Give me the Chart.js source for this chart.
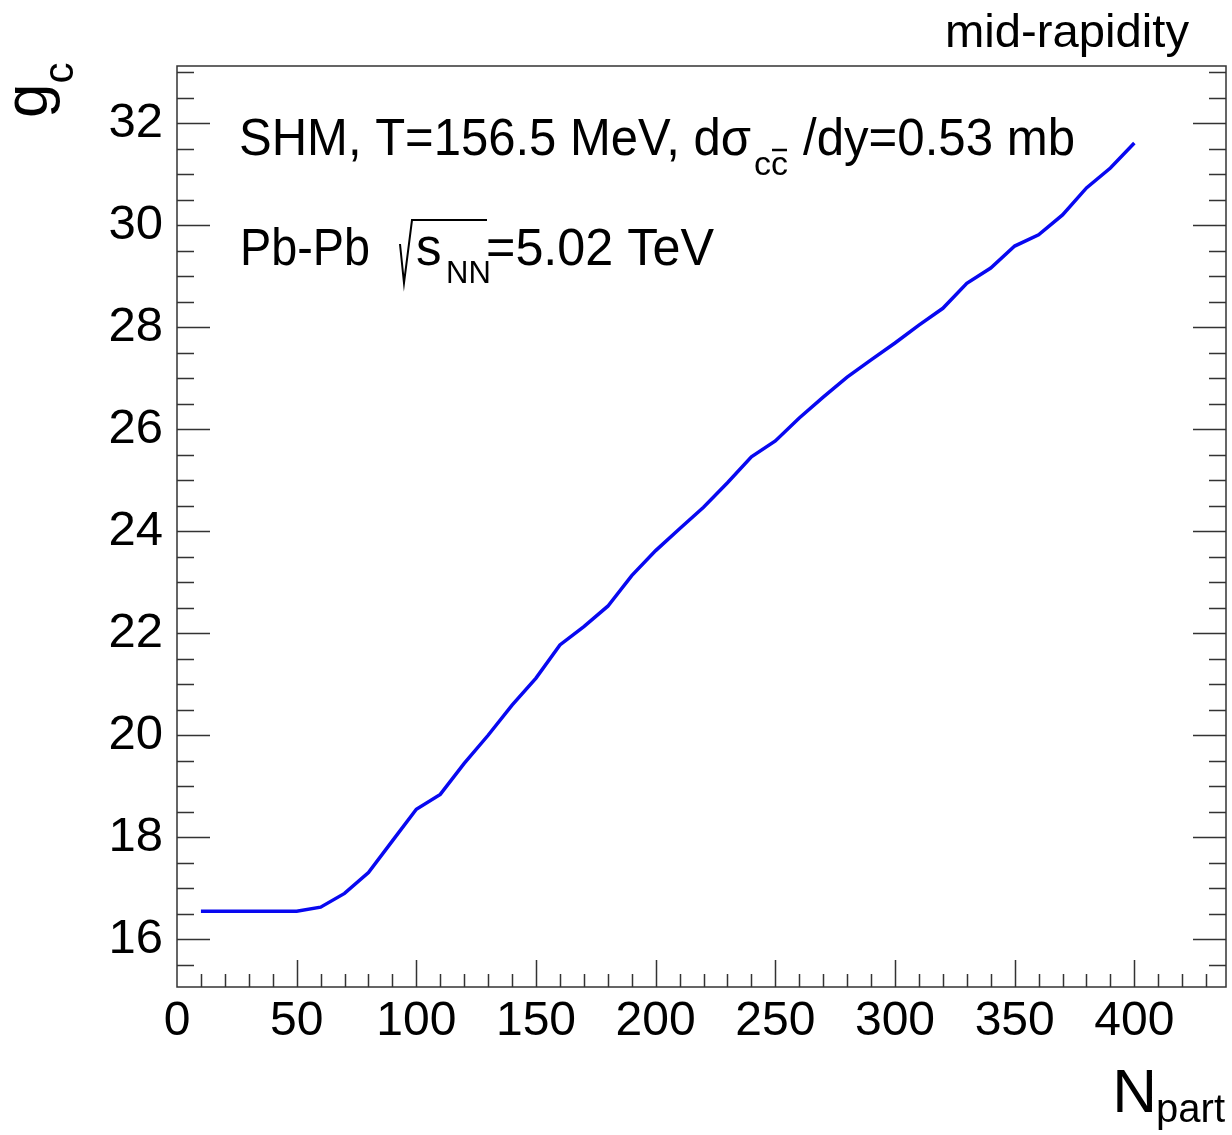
<!DOCTYPE html>
<html><head><meta charset="utf-8">
<script src="https://cdn.jsdelivr.net/npm/chart.js@4.4.1/dist/chart.umd.min.js"></script>
<style>html,body{margin:0;padding:0;background:#fff;overflow:hidden}canvas{display:block}</style>
</head><body>
<canvas id="c" width="1232" height="1135"></canvas>
<script>
// ---- data ----
const nPart = [10,20,30,40,50,60,70,80,90,100,110,120,130,140,150,160,170,180,190,200,
               210,220,230,240,250,260,270,280,290,300,310,320,330,340,350,360,370,380,390,400];
const gC = [16.55,16.55,16.55,16.55,16.55,16.63,16.90,17.31,17.93,18.55,18.84,19.45,20.00,20.59,21.12,21.77,22.13,22.53,23.13,23.62,
            24.05,24.47,24.95,25.46,25.77,26.22,26.63,27.02,27.36,27.69,28.04,28.37,28.86,29.16,29.59,29.81,30.20,30.73,31.12,31.61];
const xTickLabels = [0,50,100,150,200,250,300,350,400];
const yTickLabels = [16,18,20,22,24,26,28,30,32];

const FONT = '"Liberation Sans", Arial, Helvetica, sans-serif';
const frameColor = '#333333';

// draw text starting at x, horizontally scaled so its advance spans to xEnd
function fitText(ctx, str, x, xEnd, y, size) {
  ctx.font = size + 'px ' + FONT;
  const w = ctx.measureText(str).width;
  const sx = (xEnd - x) / w;
  ctx.save();
  ctx.translate(x, y);
  ctx.scale(sx, 1);
  ctx.fillText(str, 0, 0);
  ctx.restore();
}

const decorPlugin = {
  id: 'decor',
  afterDraw(chart) {
    const ctx = chart.ctx, ca = chart.chartArea;
    const xs = chart.scales.x, ys = chart.scales.y;
    ctx.save();
    // frame
    ctx.strokeStyle = frameColor;
    ctx.lineWidth = 1.5;
    ctx.strokeRect(ca.left, ca.top, ca.right - ca.left, ca.bottom - ca.top);
    // y ticks (left and right), inward
    ctx.beginPath();
    for (let k = 31; k <= 66; k++) {
      const v = k / 2;
      if (v < ys.min || v > ys.max) continue;
      const py = Math.round(ys.getPixelForValue(v)) + 0.5;
      const len = (k % 4 === 0) ? 33 : 17;
      ctx.moveTo(ca.left, py); ctx.lineTo(ca.left + len, py);
      ctx.moveTo(ca.right, py); ctx.lineTo(ca.right - len, py);
    }
    // x ticks (bottom), inward
    for (let v = 10; v <= 430; v += 10) {
      const px = Math.round(xs.getPixelForValue(v)) + 0.5;
      const len = (v % 50 === 0) ? 27 : 13;
      ctx.moveTo(px, ca.bottom); ctx.lineTo(px, ca.bottom - len);
    }
    ctx.stroke();

    ctx.fillStyle = '#000';
    ctx.strokeStyle = '#000';
    ctx.textAlign = 'left';
    ctx.textBaseline = 'alphabetic';

    // mid-rapidity
    fitText(ctx, 'mid-rapidity', 945, 1189, 47, 46);

    // SHM line
    fitText(ctx, 'SHM, T=156.5 MeV, d\u03C3', 239, 751, 155, 52);
    const subX = 754;
    ctx.font = '34px ' + FONT;
    ctx.fillText('cc', subX, 175);
    const wc = ctx.measureText('c').width, wcc = ctx.measureText('cc').width;
    ctx.lineWidth = 2.5;
    ctx.beginPath();
    ctx.moveTo(subX + wc + 1, 150); ctx.lineTo(subX + wcc - 1, 150);
    ctx.stroke();
    fitText(ctx, '/dy=0.53 mb', 803, 1075, 155, 52);

    // Pb-Pb line
    fitText(ctx, 'Pb-Pb', 240, 370, 265, 51);
    ctx.lineWidth = 2;
    ctx.beginPath();
    ctx.moveTo(400, 244); ctx.lineTo(404, 283); ctx.lineTo(412, 220); ctx.lineTo(487, 220);
    ctx.stroke();
    ctx.font = '51px ' + FONT;
    ctx.fillText('s', 416, 265);
    ctx.font = '31px ' + FONT;
    ctx.fillText('NN', 446, 283);
    fitText(ctx, '=5.02 TeV', 486, 714, 265, 51);

    // x title N_part
    ctx.textAlign = 'right';
    ctx.font = '40px ' + FONT;
    ctx.fillText('part', 1225, 1122);
    const wp = ctx.measureText('part').width;
    ctx.font = '62px ' + FONT;
    ctx.fillText('N', 1225 - wp + 1, 1112);

    // y title g_c (rotated)
    ctx.save();
    ctx.translate(47, 118);
    ctx.rotate(-Math.PI / 2);
    ctx.textAlign = 'left';
    ctx.font = '62px ' + FONT;
    ctx.fillText('g', 0, 0);
    const wg = ctx.measureText('g').width;
    ctx.font = '42px ' + FONT;
    ctx.fillText('c', wg, 26);
    ctx.restore();

    ctx.restore();
  }
};

new Chart(document.getElementById('c').getContext('2d'), {
  type: 'line',
  data: {
    datasets: [{
      data: nPart.map((n, i) => ({ x: n, y: gC[i] })),
      borderColor: '#0808f0',
      borderWidth: 3.5,
      pointRadius: 0,
      tension: 0,
      fill: false
    }]
  },
  options: {
    responsive: false,
    animation: false,
    devicePixelRatio: 1,
    layout: { padding: { top: 66, right: 6, left: 0, bottom: 0 } },
    plugins: { legend: { display: false }, tooltip: { enabled: false } },
    scales: {
      x: {
        type: 'linear', min: 0, max: 438.3,
        grid: { display: false, drawTicks: false },
        border: { display: false },
        ticks: { color: '#000', font: { family: FONT, size: 48 }, padding: 6, maxRotation: 0, autoSkip: false },
        afterBuildTicks: s => { s.ticks = xTickLabels.map(v => ({ value: v })); },
        afterFit: s => { s.height = 148; }
      },
      y: {
        type: 'linear', min: 15.065, max: 33.12,
        grid: { display: false, drawTicks: false },
        border: { display: false },
        ticks: { color: '#000', font: { family: FONT, size: 49 }, padding: 14, autoSkip: false },
        afterBuildTicks: s => { s.ticks = yTickLabels.map(v => ({ value: v })); },
        afterFit: s => { s.width = 177; }
      }
    }
  },
  plugins: [decorPlugin]
});
</script>
</body></html>
